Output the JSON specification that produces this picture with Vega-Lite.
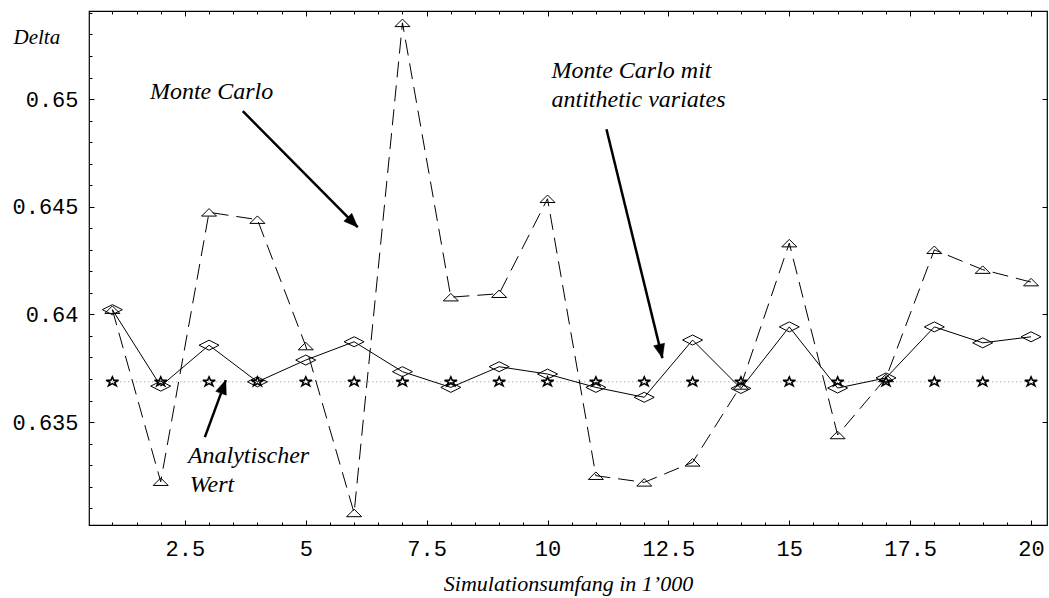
{
  "$schema": "https://vega.github.io/schema/vega-lite/v6.json",
  "width": 958,
  "height": 514,
  "autosize": {"type": "none"},
  "padding": {"left": 89, "top": 11, "right": 2, "bottom": 73},
  "background": "white",
  "config": {
    "view": {"stroke": "black", "strokeWidth": 1.2},
    "axis": {"domain": false, "grid": false, "ticks": true, "tickColor": "black", "tickWidth": 1, "labelColor": "black", "titleColor": "black", "labelOverlap": false, "labelBound": false, "labelFlush": false}
  },
  "datasets": {
    "mc": [
      {"n": 1, "delta": 0.64022}, {"n": 2, "delta": 0.63223}, {"n": 3, "delta": 0.64474}, {"n": 4, "delta": 0.6444},
      {"n": 5, "delta": 0.63853}, {"n": 6, "delta": 0.63078}, {"n": 7, "delta": 0.65354}, {"n": 8, "delta": 0.6408},
      {"n": 9, "delta": 0.64096}, {"n": 10, "delta": 0.64537}, {"n": 11, "delta": 0.63251}, {"n": 12, "delta": 0.6322},
      {"n": 13, "delta": 0.63313}, {"n": 14, "delta": 0.6367}, {"n": 15, "delta": 0.64331}, {"n": 16, "delta": 0.6344},
      {"n": 17, "delta": 0.63705}, {"n": 18, "delta": 0.643}, {"n": 19, "delta": 0.64208}, {"n": 20, "delta": 0.6415}
    ],
    "anti": [
      {"n": 1, "delta": 0.64022}, {"n": 2, "delta": 0.63667}, {"n": 3, "delta": 0.63857}, {"n": 4, "delta": 0.63687},
      {"n": 5, "delta": 0.63788}, {"n": 6, "delta": 0.63873}, {"n": 7, "delta": 0.63734}, {"n": 8, "delta": 0.63661},
      {"n": 9, "delta": 0.63757}, {"n": 10, "delta": 0.63723}, {"n": 11, "delta": 0.63661}, {"n": 12, "delta": 0.63615},
      {"n": 13, "delta": 0.63881}, {"n": 14, "delta": 0.63656}, {"n": 15, "delta": 0.63942}, {"n": 16, "delta": 0.63658},
      {"n": 17, "delta": 0.63705}, {"n": 18, "delta": 0.63942}, {"n": 19, "delta": 0.63868}, {"n": 20, "delta": 0.63896}
    ],
    "analytic": [
      {"n": 1, "delta": 0.63687}, {"n": 2, "delta": 0.63687}, {"n": 3, "delta": 0.63687}, {"n": 4, "delta": 0.63687},
      {"n": 5, "delta": 0.63687}, {"n": 6, "delta": 0.63687}, {"n": 7, "delta": 0.63687}, {"n": 8, "delta": 0.63687},
      {"n": 9, "delta": 0.63687}, {"n": 10, "delta": 0.63687}, {"n": 11, "delta": 0.63687}, {"n": 12, "delta": 0.63687},
      {"n": 13, "delta": 0.63687}, {"n": 14, "delta": 0.63687}, {"n": 15, "delta": 0.63687}, {"n": 16, "delta": 0.63687},
      {"n": 17, "delta": 0.63687}, {"n": 18, "delta": 0.63687}, {"n": 19, "delta": 0.63687}, {"n": 20, "delta": 0.63687}
    ],
    "notes": [
      {"n": 1.777, "delta": 0.65, "label": "Monte Carlo"},
      {"n": 10.083, "delta": 0.65097, "label": "Monte Carlo mit"},
      {"n": 10.083, "delta": 0.64962, "label": "antithetic variates"},
      {"n": 2.562, "delta": 0.6331, "label": "Analytischer"},
      {"n": 2.6, "delta": 0.63175, "label": "Wert"}
    ],
    "arrows": [
      {"n": 3.698, "delta": 0.64944, "n2": 6.074, "delta2": 0.64405, "angle": 135.3},
      {"n": 11.219, "delta": 0.6486, "n2": 12.376, "delta2": 0.63797, "angle": 166.3},
      {"n": 2.913, "delta": 0.6343, "n2": 3.347, "delta2": 0.63695, "angle": 20.2}
    ]
  },
  "encoding": {
    "x": {"field": "n", "type": "quantitative", "scale": {"domain": [0.517, 20.33], "nice": false, "zero": false}, "axis": null},
    "y": {"field": "delta", "type": "quantitative", "scale": {"domain": [0.63022, 0.65409], "nice": false, "zero": false}, "axis": null}
  },
  "resolve": {"axis": {"x": "independent", "y": "independent"}},
  "layer": [
    {
      "data": {"name": "analytic"},
      "mark": {"type": "line", "stroke": "#8a8a8a", "strokeWidth": 1, "strokeDash": [1, 3]},
      "encoding": {
        "x": {"field": "n", "type": "quantitative", "scale": {"domain": [0.517, 20.33], "nice": false, "zero": false},
          "axis": {"orient": "top", "values": [1,1.5,2,3,3.5,4,4.5,5.5,6,6.5,7,8,8.5,9,9.5,10.5,11,11.5,12,13,13.5,14,14.5,15.5,16,16.5,17,18,18.5,19,19.5],
            "tickSize": 3, "offset": -3, "labels": false, "title": null}},
        "y": {"field": "delta", "type": "quantitative", "scale": {"domain": [0.63022, 0.65409], "nice": false, "zero": false},
          "axis": {"orient": "right", "values": [0.635, 0.64, 0.645, 0.65], "tickSize": 5, "offset": -5, "labels": false, "title": null}}
      }
    },
    {
      "data": {"name": "mc"},
      "mark": {"type": "line", "stroke": "black", "strokeWidth": 1, "strokeDash": [16, 8]},
      "encoding": {
        "x": {"field": "n", "type": "quantitative", "scale": {"domain": [0.517, 20.33], "nice": false, "zero": false},
          "axis": {"orient": "bottom", "values": [2.5, 5, 7.5, 10, 12.5, 15, 17.5, 20],
            "tickSize": 5, "offset": -5,
            "labelExpr": "'' + datum.value",
            "labelFont": "Liberation Mono", "labelFontSize": 22, "labelBaseline": "alphabetic", "labelPadding": 30,
            "title": "Simulationsumfang in 1’000", "titleFont": "Liberation Serif", "titleFontStyle": "italic", "titleFontWeight": "normal", "titleFontSize": 22,
            "titleX": 479, "titleY": 70, "titleBaseline": "alphabetic", "titleAlign": "center"}},
        "y": {"field": "delta", "type": "quantitative", "scale": {"domain": [0.63022, 0.65409], "nice": false, "zero": false},
          "axis": {"orient": "left", "values": [0.635, 0.64, 0.645, 0.65],
            "tickSize": 5, "offset": -5,
            "labelExpr": "'' + datum.value",
            "labelFont": "Liberation Mono", "labelFontSize": 22, "labelBaseline": "middle", "labelAlign": "right", "labelPadding": 11,
            "title": "Delta", "titleFont": "Liberation Serif", "titleFontStyle": "italic", "titleFontWeight": "normal", "titleFontSize": 21,
            "titleAngle": 0, "titleX": -81, "titleY": 32, "titleAlign": "left", "titleBaseline": "alphabetic"}}
      }
    },
    {
      "data": {"name": "anti"},
      "mark": {"type": "line", "stroke": "black", "strokeWidth": 1},
      "encoding": {
        "x": {"field": "n", "type": "quantitative", "scale": {"domain": [0.517, 20.33], "nice": false, "zero": false},
          "axis": {"orient": "bottom", "values": [1,1.5,2,3,3.5,4,4.5,5.5,6,6.5,7,8,8.5,9,9.5,10.5,11,11.5,12,13,13.5,14,14.5,15.5,16,16.5,17,18,18.5,19,19.5],
            "tickSize": 3, "offset": -3, "labels": false, "title": null}},
        "y": {"field": "delta", "type": "quantitative", "scale": {"domain": [0.63022, 0.65409], "nice": false, "zero": false},
          "axis": {"orient": "left", "values": [0.631,0.632,0.633,0.634,0.636,0.637,0.638,0.639,0.641,0.642,0.643,0.644,0.646,0.647,0.648,0.649,0.651,0.652,0.653,0.654],
            "tickSize": 3, "offset": -3, "labels": false, "title": null}}
      }
    },
    {
      "data": {"name": "analytic"},
      "mark": {"type": "point", "shape": "M0,-0.75L0.2245,-0.232L0.951,-0.232L0.3633,0.0885L0.5878,0.607L0,0.2865L-0.5878,0.607L-0.3633,0.0885L-0.951,-0.232L-0.2245,-0.232Z", "size": 170, "filled": false, "stroke": "black", "strokeWidth": 1.6, "opacity": 1},
      "encoding": {
        "x": {"field": "n", "type": "quantitative", "scale": {"domain": [0.517, 20.33], "nice": false, "zero": false},
          "axis": {"orient": "top", "values": [2.5, 5, 7.5, 10, 12.5, 15, 17.5, 20], "tickSize": 5, "offset": -5, "labels": false, "title": null}}
      }
    },
    {
      "data": {"name": "anti"},
      "mark": {"type": "point", "shape": "M-1,0L0,-0.5L1,0L0,0.5Z", "size": 400, "filled": false, "stroke": "black", "strokeWidth": 1, "opacity": 1}
    },
    {
      "data": {"name": "mc"},
      "mark": {"type": "point", "shape": "M-1,0.5L0,-0.5L1,0.5Z", "size": 225, "filled": false, "stroke": "black", "strokeWidth": 1, "opacity": 1}
    },
    {
      "data": {"name": "notes"},
      "mark": {"type": "text", "align": "left", "baseline": "alphabetic", "font": "Liberation Serif", "fontStyle": "italic", "fontSize": 24, "color": "black"},
      "encoding": {"text": {"field": "label", "type": "nominal"}}
    },
    {
      "data": {"name": "arrows"},
      "mark": {"type": "rule", "stroke": "black", "strokeWidth": 2.5},
      "encoding": {
        "x2": {"field": "n2"},
        "y2": {"field": "delta2"}
      }
    },
    {
      "data": {"name": "arrows"},
      "mark": {"type": "point", "shape": "M0,0L-0.4,1L0.4,1Z", "size": 784, "filled": true, "fill": "black", "stroke": "black", "strokeWidth": 0.5, "opacity": 1},
      "encoding": {
        "x": {"field": "n2", "type": "quantitative", "scale": {"domain": [0.517, 20.33], "nice": false, "zero": false}, "axis": null},
        "y": {"field": "delta2", "type": "quantitative", "scale": {"domain": [0.63022, 0.65409], "nice": false, "zero": false}, "axis": null},
        "angle": {"field": "angle", "type": "quantitative", "scale": null}
      }
    }
  ]
}
